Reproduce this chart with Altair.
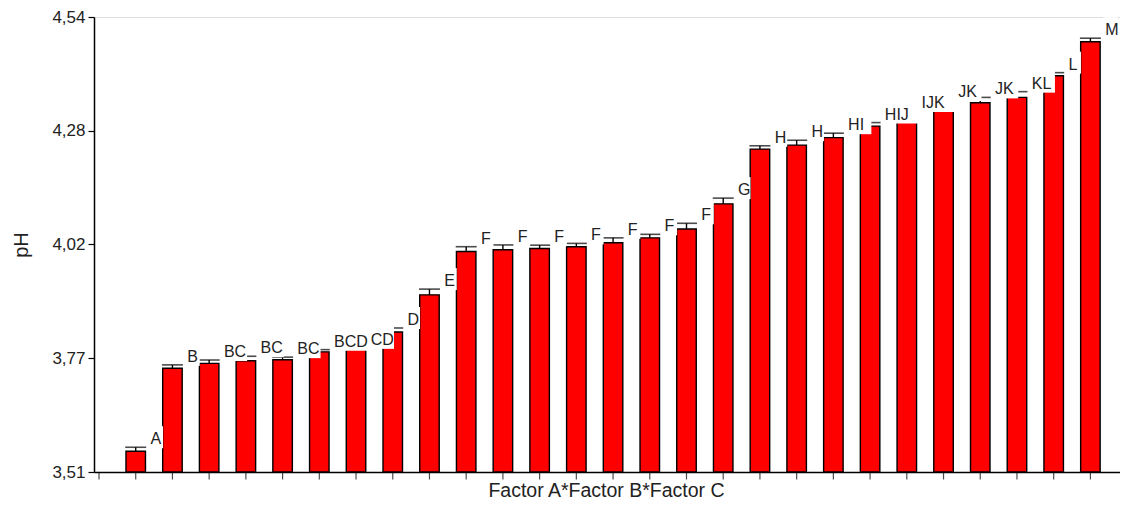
import altair as alt
import pandas as pd

# ---- data ----
groups = list(range(1, 28))
ph_values = [3.557, 3.745, 3.756, 3.762, 3.764, 3.782, 3.788, 3.827, 3.911,
             4.009, 4.013, 4.016, 4.020, 4.029, 4.040, 4.060, 4.117, 4.241,
             4.250, 4.267, 4.293, 4.318, 4.341, 4.346, 4.358, 4.407, 4.484]
ph_errors = [0.009, 0.0075, 0.0075, 0.010, 0.006, 0.005, 0.003, 0.009, 0.013,
             0.011, 0.011, 0.0075, 0.0075, 0.011, 0.008, 0.013, 0.013, 0.0075,
             0.011, 0.010, 0.008, 0.009, 0.011, 0.012, 0.013, 0.007, 0.008]
letters = ["A", "B", "BC", "BC", "BC", "BCD", "CD", "D", "E", "F", "F", "F", "F",
           "F", "F", "F", "G", "H", "H", "HI", "HIJ", "IJK", "JK", "JK", "KL", "L", "M"]
x_tick_positions = list(range(0, 28))
y_ticks = [3.51, 3.7675, 4.025, 4.2825, 4.54]
y_tick_labels = ["3,51", "3,77", "4,02", "4,28", "4,54"]

# ---- layout constants ----
STEP = 37.08           # px per group
W, H = 1026, 455
X_MAX = W / STEP
Y_MIN, Y_MAX = 3.51, 4.54
PXX = STEP
PXY = H / (Y_MAX - Y_MIN)
BAR_W = 19.5
FONT = "Liberation Sans"

df = pd.DataFrame({"g": groups, "v": ph_values, "e": ph_errors, "lab": letters})
df["base"] = Y_MIN
df["top"] = df["v"] + df["e"]
df["bx"] = df["g"] + (BAR_W / 2 + 3) / PXX
df["bx2"] = df["bx"] + (df["lab"].str.len() * 10.8 + 4) / PXX
df["by"] = df["top"] - 1 / PXY
df["by2"] = df["top"] + 21 / PXY

ticks_df = pd.DataFrame({"t": x_tick_positions, "b": Y_MIN})

xs = alt.Scale(domain=[0, X_MAX], nice=False, zero=False)
ys = alt.Scale(domain=[Y_MIN, Y_MAX], nice=False, zero=False)

label_expr = "[" + ",".join(f"'{t}'" for t in y_tick_labels) + "][round((datum.value-3.51)/0.2575)]"

x_axis = alt.Axis(values=x_tick_positions, labels=False, ticks=False, grid=False,
                  domainColor="black", domainWidth=1.5,
                  title="Factor A*Factor B*Factor C", titleFont=FONT, titleFontSize=19.5,
                  titleFontWeight="normal", titleColor="#222222", titleX=512, titleY=24,
                  titleAlign="center", titleBaseline="alphabetic")
y_axis = alt.Axis(values=y_ticks, labelExpr=label_expr, grid=False, tickSize=6,
                  tickColor="black", domainColor="black", domainWidth=1.5, tickWidth=1.2,
                  labelFont=FONT, labelFontSize=17, labelColor="#222222", labelPadding=3,
                  title="pH", titleFont=FONT, titleFontSize=20, titleFontWeight="normal",
                  titleColor="#222222", titleX=-73, titleY=H / 2, titleAngle=270,
                  titleAlign="center", titleBaseline="middle")

base = alt.Chart(df)

bars = base.mark_bar(size=BAR_W, color="#ff0000", stroke="black", strokeWidth=1.4).encode(
    x=alt.X("g:Q", scale=xs, axis=x_axis),
    y=alt.Y("v:Q", scale=ys, axis=y_axis),
    y2="base:Q",
)
xticks = alt.Chart(ticks_df).mark_tick(orient="vertical", size=7, thickness=1.2,
                                       color="black", yOffset=4).encode(
    x="t:Q", y="b:Q")
stems = base.mark_rule(color="black", strokeWidth=1.4).encode(
    x="g:Q", y="v:Q", y2="top:Q")
caps = base.mark_tick(orient="horizontal", size=21, thickness=1.6, color="black").encode(
    x="g:Q", y="top:Q")
boxes = base.mark_rect(color="white").encode(
    x="bx:Q", x2="bx2:Q", y="by:Q", y2="by2:Q")
texts = base.mark_text(align="left", baseline="alphabetic", dx=BAR_W / 2 + 5, dy=-3,
                       font=FONT, fontSize=16, color="#222222").encode(
    x="g:Q", y="top:Q", text="lab:N")

chart = alt.layer(bars, xticks, stems, caps, boxes, texts).properties(
    width=W, height=H,
    autosize=alt.AutoSizeParams(type="none"),
    padding={"left": 86, "top": 9, "right": 0, "bottom": 28},
).configure_view(stroke=None, clip=False).configure(background="white")

chart.save("out.html", embed_options={"renderer": "svg", "actions": False})
